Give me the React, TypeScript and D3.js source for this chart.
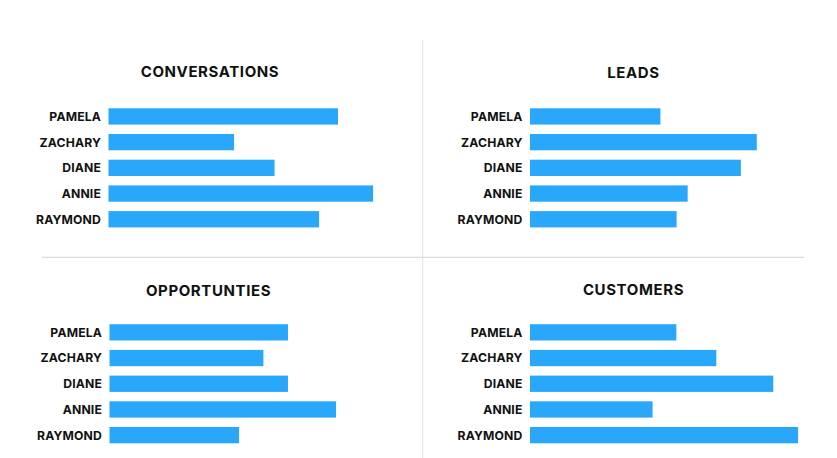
import React from "react";
import * as d3 from "d3";

const names = ["PAMELA", "ZACHARY", "DIANE", "ANNIE", "RAYMOND"];
const conversations = [85, 46.5, 61.5, 98, 78];
const leads = [48.3, 84, 78.1, 58.4, 54.3];
const opportunities = [66.1, 57, 66.1, 83.9, 48];
const customers = [54.2, 69, 90.1, 45.4, 99.3];
const titles = ["CONVERSATIONS", "LEADS", "OPPORTUNTIES", "CUSTOMERS"];

const W = 837;
const H = 458;
const BLUE = "#29A8FB";
const FONT = "Inter, 'Noto Sans', sans-serif";

const panels = [
  { title: titles[0], values: conversations, x0: 108.5, y0: 108.3, titleX: 210, titleY: 77 },
  { title: titles[1], values: leads, x0: 530, y0: 108.3, titleX: 633.5, titleY: 77.5 },
  { title: titles[2], values: opportunities, x0: 109.5, y0: 324.2, titleX: 208.5, titleY: 296 },
  { title: titles[3], values: customers, x0: 530, y0: 324.2, titleX: 633.5, titleY: 294.5 },
];

const x = d3.scaleLinear().domain([0, 100]).range([0, 270]);
const STEP = 25.7;
const PAD = 0.366;

export default function App() {
  return (
    <svg width={W} height={H} style={{ position: "absolute", left: 0, top: 0, display: "block" }}>
      <rect width={W} height={H} fill="#fff" />
      <line x1={422.7} x2={422.7} y1={40} y2={H} stroke="#e2e2e2" strokeWidth={1} />
      <line x1={41.7} x2={804.5} y1={257.3} y2={257.3} stroke="#dcdcdc" strokeWidth={1.2} />
      {panels.map((p, pi) => {
        const y = d3
          .scaleBand<string>()
          .domain(names)
          .range([p.y0 - (PAD / 2) * STEP, p.y0 + 5 * STEP - (PAD / 2) * STEP])
          .paddingInner(PAD)
          .paddingOuter(PAD / 2);
        return (
          <g key={pi}>
            <text
              x={p.titleX}
              y={p.titleY}
              textAnchor="middle"
              fontFamily={FONT}
              fontWeight={700}
              fontSize={15}
              letterSpacing={0.6}
              fill="#111"
            >
              {p.title}
            </text>
            {names.map((n, i) => {
              const by = y(n)!;
              const bh = y.bandwidth();
              return (
                <g key={n}>
                  <rect x={p.x0} y={by} width={x(p.values[i])} height={bh} fill={BLUE} />
                  <text
                    x={p.x0 - 7.5}
                    y={by + bh / 2 + 4.4}
                    textAnchor="end"
                    fontFamily={FONT}
                    fontWeight={700}
                    fontSize={12.2}
                    letterSpacing={0.15}
                    fill="#111"
                  >
                    {n}
                  </text>
                </g>
              );
            })}
          </g>
        );
      })}
    </svg>
  );
}
